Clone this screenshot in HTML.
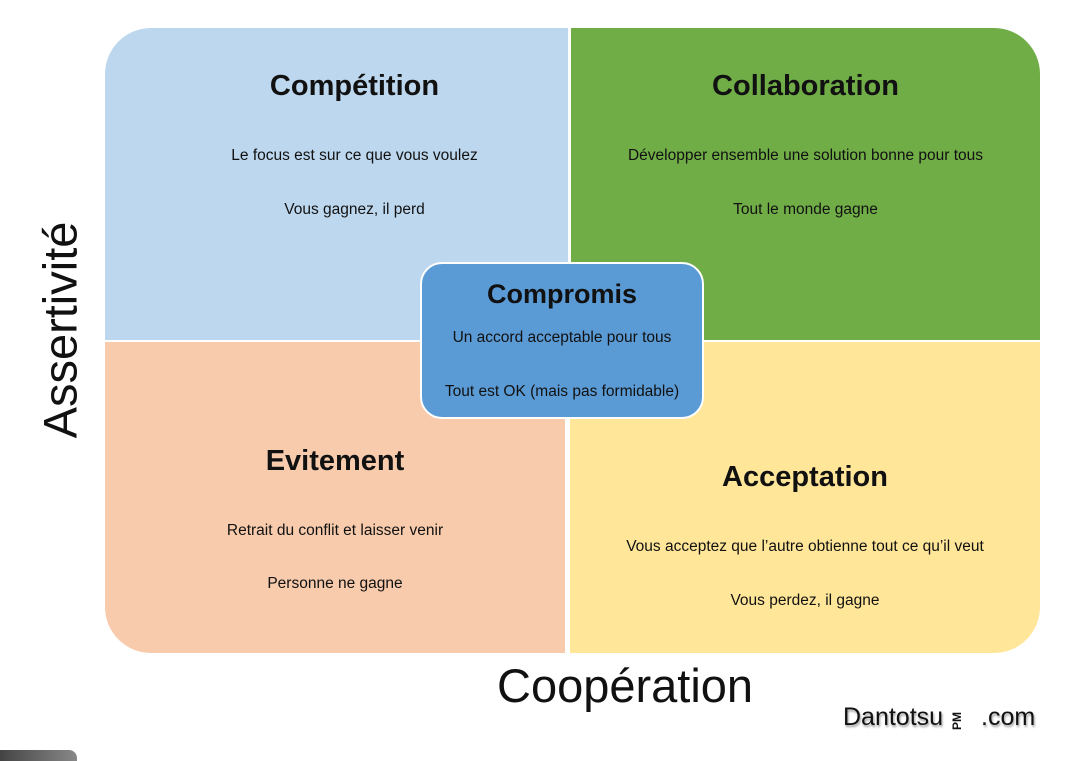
<!DOCTYPE html>
<html><head><meta charset="utf-8"><style>
body{margin:0;width:1082px;height:761px;background:#fff;position:relative;overflow:hidden;font-family:"Liberation Sans",sans-serif;color:#111}
.q{position:absolute;box-sizing:border-box}
.t{position:absolute;left:0;right:0;text-align:center;white-space:nowrap}
.h{font-weight:bold;font-size:29px}
.b{font-size:15.5px}
</style></head><body>
<div class="q" style="left:105px;top:28px;width:463px;height:312px;background:#bdd7ee;border-top-left-radius:46px">
 <div class="t h" style="top:42px;left:36px">Compétition</div>
 <div class="t b" style="top:119px;left:36px">Le focus est sur ce que vous voulez</div>
 <div class="t b" style="top:173px;left:36px">Vous gagnez, il perd</div>
</div>
<div class="q" style="left:571px;top:28px;width:469px;height:312px;background:#70ad47;border-top-right-radius:46px">
 <div class="t h" style="top:42px">Collaboration</div>
 <div class="t b" style="top:119px">Développer ensemble une solution bonne pour tous</div>
 <div class="t b" style="top:173px">Tout le monde gagne</div>
</div>
<div class="q" style="left:105px;top:342px;width:460px;height:311px;background:#f8cbad;border-bottom-left-radius:46px">
 <div class="t h" style="top:103px">Evitement</div>
 <div class="t b" style="top:180px">Retrait du conflit et laisser venir</div>
 <div class="t b" style="top:233px">Personne ne gagne</div>
</div>
<div class="q" style="left:570px;top:342px;width:470px;height:311px;background:#ffe699;border-bottom-right-radius:46px">
 <div class="t h" style="top:119px">Acceptation</div>
 <div class="t b" style="top:196px">Vous acceptez que l’autre obtienne tout ce qu’il veut</div>
 <div class="t b" style="top:250px">Vous perdez, il gagne</div>
</div>
<div class="q" style="left:420px;top:262px;width:284px;height:157px;background:#5b9bd5;border:2px solid #fff;border-radius:22px">
 <div class="t h" style="top:15px;font-size:27px">Compromis</div>
 <div class="t b" style="top:65px">Un accord acceptable pour tous</div>
 <div class="t b" style="top:119px">Tout est OK (mais pas formidable)</div>
</div>
<div style="position:absolute;left:60px;top:330px;transform:translate(-50%,-50%) rotate(-90deg);font-size:47px;white-space:nowrap">Assertivité</div>
<div style="position:absolute;left:497px;top:658px;font-size:47px;white-space:nowrap">Coopération</div>
<div style="position:absolute;left:843px;top:703px;font-size:25px;text-shadow:1px 2px 2px #999">Dantotsu</div>
<div style="position:absolute;left:957px;top:721px;transform:translate(-50%,-50%) rotate(-90deg);font-size:12px;font-weight:bold">PM</div>
<div style="position:absolute;left:981px;top:703px;font-size:25px;text-shadow:1px 2px 2px #999">.com</div>
<div style="position:absolute;left:0;top:750px;width:77px;height:11px;background:linear-gradient(90deg,#444,#888);border-top-right-radius:8px"></div>
</body></html>
